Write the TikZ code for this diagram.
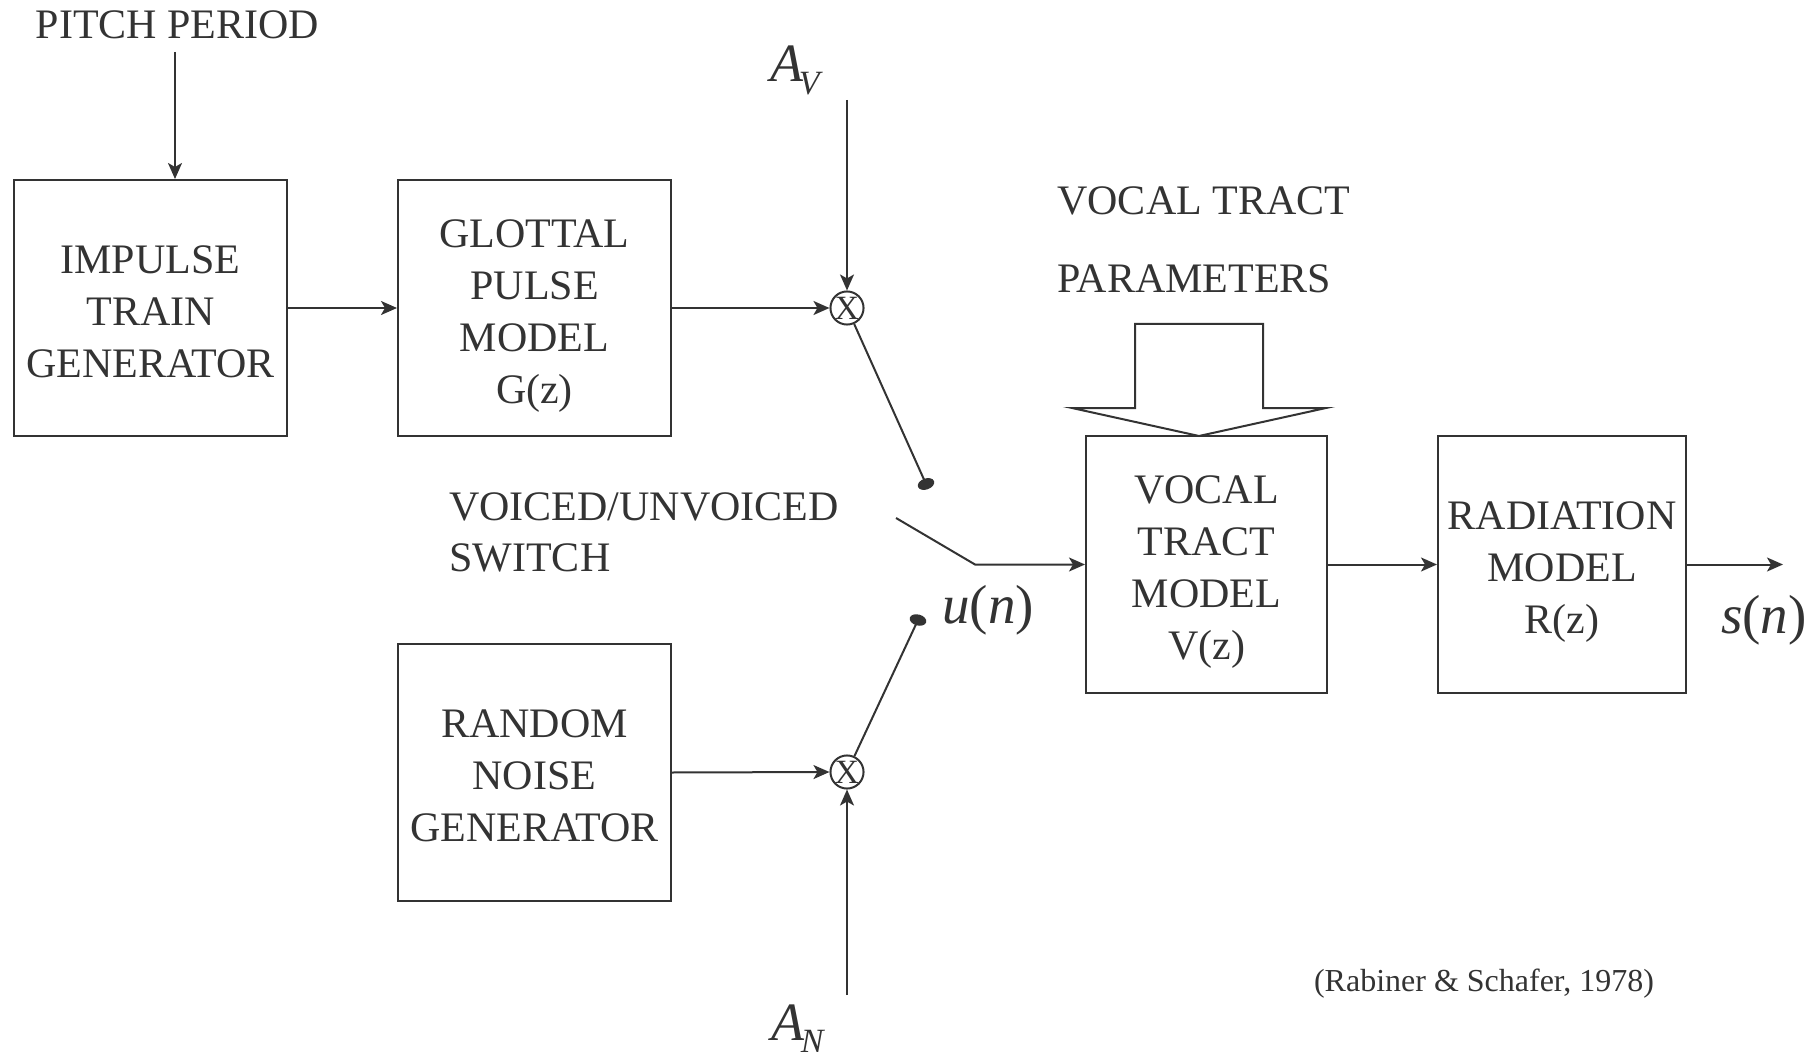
\documentclass[tikz,border=0pt]{standalone}
\usepackage{fontspec}
\setmainfont{Liberation Serif}
\usetikzlibrary{arrows.meta,shapes.geometric}
\definecolor{ink}{HTML}{333333}
\begin{document}
\begin{tikzpicture}[x=1pt,y=-1pt,
  color=ink, line width=2pt,
  font=\fontsize{42}{52}\selectfont,
  box/.style={draw, inner sep=0pt},
  boxtext/.style={align=center, inner sep=0pt, text depth=0pt},
  mult/.style={circle, draw, minimum size=33pt, inner sep=0pt,
    font=\fontsize{34}{34}\selectfont},
  contact/.style={ellipse, fill, minimum width=17pt, minimum height=11pt,
    inner sep=0pt},
  sig/.style={-{Stealth[length=16pt,width=14pt,inset=4pt]}},
  mathlbl/.style={font=\fontsize{55}{55}\selectfont},
]
\useasboundingbox (0,0) rectangle (1820,1056);

% processing blocks
\node[box, minimum width=273pt, minimum height=256pt] (imp) at (150.5,308) {};
\node[box, minimum width=273pt, minimum height=256pt] (glot) at (534.5,308) {};
\node[box, minimum width=273pt, minimum height=257pt] (noise) at (534.5,772.5) {};
\node[box, minimum width=241pt, minimum height=257pt] (vt) at (1206.5,564.5) {};
\node[box, minimum width=248pt, minimum height=257pt] (rad) at (1562,564.5) {};

% block captions, set a little below each block's centre
\node[boxtext] (impt) at ([yshift=-3.5pt]imp.center) {IMPULSE\\TRAIN\\GENERATOR};
\node[boxtext] (glott) at ([yshift=-3.5pt]glot.center) {GLOTTAL\\PULSE\\MODEL\\G(z)};
\node[boxtext] (noiset) at ([yshift=-3pt]noise.center) {RANDOM\\NOISE\\GENERATOR};
\node[boxtext] (vtt) at ([yshift=-3.5pt]vt.center) {VOCAL\\TRACT\\MODEL\\V(z)};
\node[boxtext] (radt) at ([yshift=-3pt]rad.center) {RADIATION\\MODEL\\R(z)};

% gain multipliers
\node[mult] (mv) at (847,308) {X};
\node[mult] (mn) at (847,772) {X};

% switch contacts
\node[contact, rotate=20] (dv) at (926,484) {};
\node[contact, rotate=-15] (dn) at (918,620) {};

% labels
\node[anchor=base] (pitch) at (177.5,39) {PITCH PERIOD};
\node[anchor=base west] (swl1) at (445,520) {VOICED/UNVOICED};
\node[anchor=base west] (swl2) at (445,571) {SWITCH};
\node[anchor=base west] (vtp1) at (1053,215) {VOCAL TRACT};
\node[anchor=base west] (vtp2) at (1053,293) {PARAMETERS};
\node[anchor=base west, inner sep=0pt] (av) at (769,82)
  {\fontsize{54}{54}\selectfont\itshape A\kern-4pt\raisebox{-13pt}{\fontsize{34}{34}\selectfont V}};
\node[anchor=base west, inner sep=0pt] (an) at (770,1040)
  {\fontsize{54}{54}\selectfont\itshape A\kern-3pt\raisebox{-12pt}{\fontsize{34}{34}\selectfont N}};
\node[mathlbl, anchor=base] (un) at (988,623) {\textit{u}(\textit{n})};
\node[mathlbl, anchor=base] (sn) at (1764,633) {\textit{s}(\textit{n})};
\node[anchor=base, font=\fontsize{32}{32}\selectfont] (cite) at (1484,991)
  {(Rabiner \& Schafer, 1978)};

% free ends of connectors
\coordinate (ptop) at (175,52);
\coordinate (avtop) at (847,100);
\coordinate (anbot) at (847,995);
\coordinate (swa) at (896,518);
\coordinate (swb) at (975,564.5);
\coordinate (out) at (1783,564.5);

% signal flow
\draw[sig] (ptop) -- (ptop |- imp.north);
\draw[sig] (imp.east) -- (glot.west);
\draw[sig] (glot.east) -- (mv.west);
\draw[sig] (avtop) -- (mv.north);
\draw[sig] (noise.east) -- (mn.west);
\draw[sig] (anbot) -- (mn.south);
\draw (mv) -- (dv.center);
\draw (mn) -- (dn.center);
\draw[sig] (swa) -- (swb) -- (vt.west);
\draw[sig] (vt.east) -- (rad.west);
\draw[sig] (rad.east) -- (out);

% broad arrow carrying the vocal tract parameters
\draw[line join=miter] (1135,324) -- (1263,324) -- (1263,408) -- (1326,408)
  -- (1199,436) -- (1072,408) -- (1135,408) -- cycle;
\end{tikzpicture}
\end{document}
